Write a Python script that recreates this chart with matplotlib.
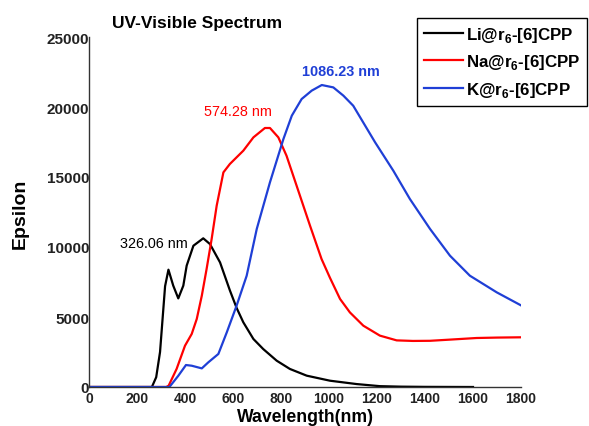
import matplotlib
matplotlib.use("Agg")
import matplotlib.pyplot as plt

plt.rcParams['font.family'] = ['Liberation Sans', 'DejaVu Sans']
plt.rcParams['mathtext.fontset'] = 'custom'
plt.rcParams['mathtext.rm'] = 'Liberation Sans'
plt.rcParams['mathtext.bf'] = 'Liberation Sans:bold'

# ---- data ----
li_x = [0, 262, 280, 296, 317, 331, 351, 372, 393, 407, 435, 476, 504, 546, 587,
        615, 643, 685, 726, 782, 837, 907, 1004, 1115, 1212, 1300, 1400, 1500, 1600]
li_y = [0, 0, 700, 2500, 7200, 8380, 7240, 6330, 7240, 8670, 10090, 10620, 10210,
        8900, 6900, 5650, 4620, 3430, 2710, 1880, 1290, 810, 450, 210, 60, 25, 10,
        5, 0]

na_x = [0, 322, 332, 365, 400, 428, 449, 470, 490, 511, 532, 560, 587, 643, 685,
        733, 754, 789, 823, 865, 921, 969, 1004, 1046, 1087, 1143, 1212, 1282, 1350,
        1421, 1500, 1615, 1700, 1800]
na_y = [0, 0, 100, 1290, 2950, 3790, 4860, 6520, 8430, 10570, 12950, 15330, 15930,
        16880, 17830, 18500, 18500, 17830, 16520, 14380, 11520, 9140, 7800, 6290,
        5330, 4380, 3670, 3330, 3290, 3300, 3380, 3500, 3530, 3550]

k_x = [0, 335, 372, 404, 428, 470, 497, 539, 574, 615, 657, 699, 754, 810, 845,
       886, 928, 970, 1018, 1060, 1101, 1192, 1268, 1337, 1421, 1504, 1587, 1699,
       1800]
k_y = [0, 0, 800, 1570, 1520, 1330, 1760, 2360, 3900, 5810, 7950, 11290, 14620,
       17710, 19380, 20570, 21170, 21570, 21400, 20810, 20090, 17480, 15450,
       13430, 11290, 9380, 7950, 6760, 5830]

labels = ["Li@r$_\\mathbf{6}$-[6]CPP", "Na@r$_\\mathbf{6}$-[6]CPP", "K@r$_\\mathbf{6}$-[6]CPP"]
colors = ["black", "#ff0000", "#1f3fd6"]
peak_labels = ["326.06 nm", "574.28 nm", "1086.23 nm"]
peak_pos = [(271, 10290), (621, 19710), (1050, 22570)]

xticks = [0, 200, 400, 600, 800, 1000, 1200, 1400, 1600, 1800]
yticks = [0, 5000, 10000, 15000, 20000, 25000]

# ---- figure ----
W, H = 589, 427
fig = plt.figure(figsize=(W / 100, H / 100), dpi=100)
ax = fig.add_axes([89 / W, 1 - 388 / H, (521 - 89) / W, (388 - 38) / H])

for xs, ys, lab, c in zip([li_x, na_x, k_x], [li_y, na_y, k_y], labels, colors):
    ax.plot(xs, ys, color=c, lw=1.6, label=lab, solid_joinstyle='round')

ax.set_xlim(0, 1800)
ax.set_ylim(0, 25000)
ax.set_xticks(xticks)
ax.set_yticks(yticks)
ax.tick_params(length=0)
ax.tick_params(axis='x', pad=3, labelsize=10)
ax.tick_params(axis='y', pad=0, labelsize=11)
for t in ax.get_xticklabels() + ax.get_yticklabels():
    t.set_fontweight('bold')
    t.set_color('#222222')
for s in ['top', 'right']:
    ax.spines[s].set_visible(False)
for s in ['left', 'bottom']:
    ax.spines[s].set_color('#333333')
    ax.spines[s].set_linewidth(1.0)

weights = ['normal', 'normal', 'bold']
for (px, py), txt, c, w in zip(peak_pos, peak_labels, colors, weights):
    ax.text(px, py, txt, color=c, fontsize=10.4, ha='center', va='center', fontweight=w)

fig.text(112 / W, 1 - 28 / H, "UV-Visible Spectrum", fontsize=12.5, fontweight='bold',
         ha='left', va='baseline')
fig.text(20 / W, 1 - 214 / H, "Epsilon", fontsize=14, fontweight='bold',
         rotation=90, ha='center', va='center')
fig.text(305 / W, 1 - 418 / H, "Wavelength(nm)", fontsize=12.7, fontweight='bold',
         ha='center', va='center')

leg = ax.legend(loc='upper left', bbox_to_anchor=(417 / W, 1 - 19 / H),
                bbox_transform=fig.transFigure, frameon=True, borderaxespad=0,
                fancybox=False, edgecolor='black', framealpha=1,
                handlelength=2.3, handletextpad=0.17, labelspacing=0.5,
                borderpad=0.4, prop={'weight': 'bold', 'size': 12.2})
leg.get_frame().set_linewidth(1.0)

fig.savefig("out.png", dpi=100)
